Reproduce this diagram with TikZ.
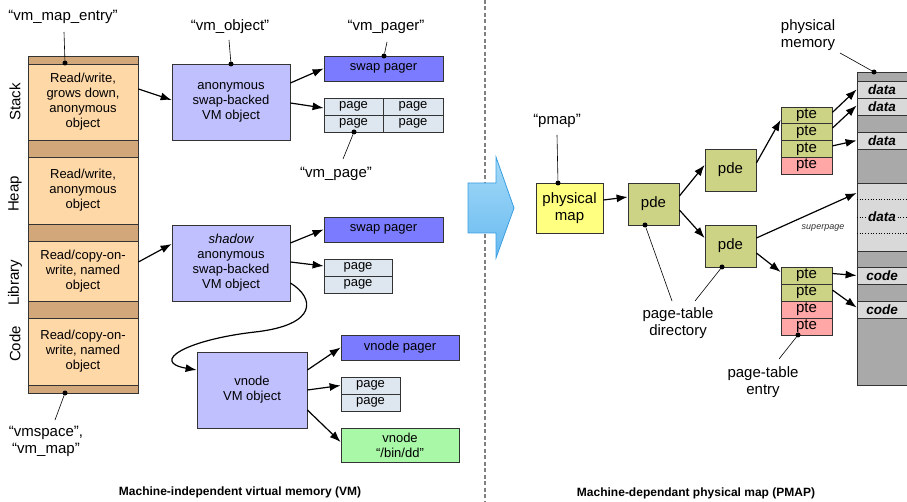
\documentclass[tikz,border=0pt]{standalone}
\usepackage{fontspec}
\setmainfont{Liberation Sans}
\usetikzlibrary{arrows.meta,calc}
\definecolor{tanL}{HTML}{FFD8A8}
\definecolor{tanD}{HTML}{D2A87A}
\definecolor{lav}{HTML}{C0C0FF}
\definecolor{swp}{HTML}{7B7BFF}
\definecolor{pgc}{HTML}{DEE6EF}
\definecolor{grn}{HTML}{A8F8A8}
\definecolor{yel}{HTML}{FFFF80}
\definecolor{olv}{HTML}{CDD384}
\definecolor{rdp}{HTML}{FFA6A6}
\definecolor{memD}{HTML}{A9A9A9}
\definecolor{memL}{HTML}{D9D9D9}
\definecolor{bord}{HTML}{333333}
\begin{document}
\begin{tikzpicture}[x=1pt,y=-1pt,
  box/.style={draw=bord, line width=0.8pt, inner sep=0pt, align=center,
     font=\fontsize{13}{15}\selectfont},
  rbox/.style={draw=bord, line width=0.8pt, inner sep=0pt, align=center,
     font=\fontsize{15}{17}\selectfont},
  lbl/.style={align=center, inner sep=0pt, font=\fontsize{15}{17}\selectfont},
  side/.style={rotate=90, inner sep=0pt, font=\fontsize{15}{17}\selectfont},
  ttl/.style={inner sep=0pt, font=\fontsize{12}{14}\selectfont\bfseries},
  memtxt/.style={inner sep=1pt, font=\fontsize{13.5}{15}\selectfont\bfseries\itshape},
  arr/.style={-{Latex[length=11pt,width=8pt]}, line width=1.2pt, black},
  pinline/.style={line width=0.6pt, black},
  dot/.style={circle, fill=black, inner sep=0pt, minimum size=5pt}
]
\useasboundingbox (0,0) rectangle (907,502);

% separator
\draw[gray, line width=1.3pt, dash pattern=on 4pt off 2.5pt] (485,0) -- (485,502);

% ---------------- left column ----------------
\node[box, fill=tanD, minimum width=110, minimum height=8] (s0) at (83,60) {};
\node[box, fill=tanL, minimum width=110, minimum height=76] (stack) at (83,102) {Read/write,\\grows down,\\anonymous\\object};
\node[box, fill=tanD, minimum width=110, minimum height=17] (s1) at (83,148.5) {};
\node[box, fill=tanL, minimum width=110, minimum height=67] (heap) at (83,190.5) {Read/write,\\anonymous\\object};
\node[box, fill=tanD, minimum width=110, minimum height=17] (s2) at (83,232.5) {};
\node[box, fill=tanL, minimum width=110, minimum height=60] (lib) at (83,271) {Read/copy-on-\\write, named\\object};
\node[box, fill=tanD, minimum width=110, minimum height=17] (s3) at (83,309.5) {};
\node[box, fill=tanL, minimum width=110, minimum height=67] (code) at (83,351.5) {Read/copy-on-\\write, named\\object};
\node[box, fill=tanD, minimum width=110, minimum height=8] (s4) at (83,389) {};

\node[side] (lstack) at (15,102) {Stack};
\node[side] (lheap) at (15,194) {Heap};
\node[side] (llib) at (15,283) {Library};
\node[side] (lcode) at (15,344) {Code};

% ---------------- objects ----------------
\node[box, fill=lav, minimum width=118, minimum height=76] (vmobj) at (231,102) {anonymous\\swap-backed\\VM object};
\node[box, fill=swp, minimum width=119, minimum height=25] (swap1) at (383.5,68.5) {swap pager};
\node[box, fill=pgc, minimum width=59, minimum height=17] (pg11) at (353.5,106.5) {page};
\node[box, fill=pgc, minimum width=60, minimum height=17] (pg12) at (413,106.5) {page};
\node[box, fill=pgc, minimum width=59, minimum height=17] (pg13) at (353.5,123.5) {page};
\node[box, fill=pgc, minimum width=60, minimum height=17] (pg14) at (413,123.5) {page};

\node[box, fill=lav, minimum width=118, minimum height=76] (shadow) at (231,263) {\itshape shadow\\anonymous\\swap-backed\\VM object};
\node[box, fill=swp, minimum width=119, minimum height=25] (swap2) at (383.5,229.5) {swap pager};
\node[box, fill=pgc, minimum width=68, minimum height=17] (pg21) at (358,267.5) {page};
\node[box, fill=pgc, minimum width=68, minimum height=17] (pg22) at (358,284.5) {page};

\node[box, fill=lav, minimum width=110, minimum height=76] (vnode) at (252,390) {vnode\\VM object};
\node[box, fill=swp, minimum width=118, minimum height=25] (vpager) at (400,347.5) {vnode pager};
\node[box, fill=pgc, minimum width=59, minimum height=17] (pg31) at (370.5,385.5) {page};
\node[box, fill=pgc, minimum width=59, minimum height=17] (pg32) at (370.5,402.5) {page};
\node[box, fill=grn, minimum width=118, minimum height=34] (vdd) at (400,445) {vnode\\“/bin/dd”};

% left arrows
\draw[arr] ([yshift=13pt]stack.east) -- ([yshift=2pt]vmobj.west);
\draw[arr] ([yshift=19pt]vmobj.east) -- (swap1.west);
\draw[arr] ([yshift=-1pt]vmobj.east) -- ([yshift=-1.5pt]pg11.west);
\draw[arr] ([yshift=9pt]lib.east) -- ([yshift=19pt]shadow.west);
\draw[arr] ([yshift=20pt]shadow.east) -- (swap2.west);
\draw[arr] ([yshift=1pt]shadow.east) -- ([yshift=1.5pt]pg21.west);
\draw[arr] ([yshift=-20pt]shadow.east) .. controls (315,298) and (318,325) .. (255,332)
   .. controls (185,340) and (150,362) .. ([yshift=20pt]vnode.west);
\draw[arr] ([yshift=20pt]vnode.east) -- (vpager.west);
\draw[arr] (vnode.east) -- (pg31.west);
\draw[arr] ([yshift=-20pt]vnode.east) -- ([yshift=3pt]vdd.west);

% left labels and pins
\node[lbl] (lentry) at (63,17) {“vm\_map\_entry”};
\coordinate (pe1) at (64,32); \node[dot] (de1) at (65,63) {};
\draw[pinline] (pe1) -- (de1);
\node[lbl] (lvms) at (46,441) {“vmspace”,\\“vm\_map”};
\coordinate (pe2) at (55,420); \node[dot] (de2) at (65,393) {};
\draw[pinline] (pe2) -- (de2);
\node[lbl] (lobj) at (230,27) {“vm\_object”};
\coordinate (pe3) at (229,40); \node[dot] (de3) at (231,64) {};
\draw[pinline] (pe3) -- (de3);
\node[lbl] (lpager) at (386,27) {“vm\_pager”};
\coordinate (pe4) at (387,42); \node[dot] (de4) at (384,56) {};
\draw[pinline] (pe4) -- (de4);
\node[lbl] (lpage) at (336,174) {“vm\_page”};
\coordinate (pe5) at (343,159); \node[dot] (de5) at (354,132) {};
\draw[pinline] (pe5) -- (de5);

\node[ttl] (t1) at (240,492) {Machine-independent virtual memory (VM)};

% ---------------- big arrow ----------------
\shade[top color={rgb,255:red,164;green,218;blue,248}, bottom color={rgb,255:red,104;green,186;blue,240}]
  (468,183) -- (496,183) -- (496,157) -- (514,208) -- (496,258) -- (496,233) -- (468,233) -- cycle;
\draw[line width=0.8pt, draw={rgb,255:red,58;green,158;blue,224}]
  (468,183) -- (496,183) -- (496,157) -- (514,208) -- (496,258) -- (496,233) -- (468,233) -- cycle;

% ---------------- right side ----------------
\node[rbox, fill=yel, minimum width=67, minimum height=50] (pm) at (569.5,208) {physical\\map};
\node[rbox, fill=olv, minimum width=51, minimum height=42] (pde1) at (653.5,204) {pde};
\node[rbox, fill=olv, minimum width=51, minimum height=42] (pdeU) at (730.5,170) {pde};
\node[rbox, fill=olv, minimum width=51, minimum height=42] (pdeL) at (730.5,246) {pde};

\node[rbox, fill=olv, minimum width=51, minimum height=16.75] (pA1) at (806.5,115.4) {pte};
\node[rbox, fill=olv, minimum width=51, minimum height=16.75] (pA2) at (806.5,132.1) {pte};
\node[rbox, fill=olv, minimum width=51, minimum height=16.75] (pA3) at (806.5,148.9) {pte};
\node[rbox, fill=rdp, minimum width=51, minimum height=16.75] (pA4) at (806.5,165.6) {pte};

\node[rbox, fill=olv, minimum width=51, minimum height=17] (pB1) at (806.5,275.5) {pte};
\node[rbox, fill=olv, minimum width=51, minimum height=17] (pB2) at (806.5,292.5) {pte};
\node[rbox, fill=rdp, minimum width=51, minimum height=17] (pB3) at (806.5,309.5) {pte};
\node[rbox, fill=rdp, minimum width=51, minimum height=17] (pB4) at (806.5,326.5) {pte};

% physical memory column
\node[draw=bord, line width=0.8pt, fill=memD, minimum width=55, minimum height=313, inner sep=0pt] (mem) at (884.5,228.5) {};
\node[draw=bord, line width=0.8pt, fill=memL, minimum width=55, minimum height=17, inner sep=0pt] (m1) at (884.5,89.5) {};
\node[draw=bord, line width=0.8pt, fill=memL, minimum width=55, minimum height=17, inner sep=0pt] (m2) at (884.5,106.5) {};
\node[draw=bord, line width=0.8pt, fill=memL, minimum width=55, minimum height=17, inner sep=0pt] (m3) at (884.5,140.5) {};
\node[draw=bord, line width=0.8pt, fill=memL, minimum width=55, minimum height=68, inner sep=0pt] (sup) at (884.5,217) {};
\node[draw=bord, line width=0.8pt, fill=memL, minimum width=55, minimum height=17, inner sep=0pt] (c1) at (884.5,275.5) {};
\node[draw=bord, line width=0.8pt, fill=memL, minimum width=55, minimum height=17, inner sep=0pt] (c2) at (884.5,309.5) {};
\draw[dotted, line width=0.7pt] (857,199) -- (912,199);
\draw[dotted, line width=0.7pt] (857,217) -- (912,217);
\draw[dotted, line width=0.7pt] (857,233) -- (912,233);
\node[memtxt] (tm1) at (882,89.5) {data};
\node[memtxt] (tm2) at (882,106.5) {data};
\node[memtxt] (tm3) at (882,140.5) {data};
\node[memtxt, fill=memL] (tsup) at (882,217) {data};
\node[memtxt] (tc1) at (882,275.5) {code};
\node[memtxt] (tc2) at (882,309.5) {code};

% right arrows
\draw[arr] ([yshift=8pt]pm.east) -- ([yshift=7pt]pde1.west);
\draw[arr] ([yshift=8pt]pde1.east) -- ([yshift=5pt]pdeU.west);
\draw[arr] ([yshift=-6pt]pde1.east) -- ([yshift=8pt]pdeL.west);
\draw[arr] ([yshift=7pt]pdeU.east) -- ([yshift=-4.5pt]pA1.west);
\draw[arr] ([yshift=8pt]pdeL.east) -- ([yshift=24pt]sup.west);
\draw[arr] ([yshift=-7pt]pdeL.east) -- ([yshift=3.5pt]pB1.west);
\draw[arr] ([yshift=3pt]pA1.east) -- (m1.west);
\draw[arr] ([yshift=4pt]pA2.east) -- ([yshift=1pt]m2.west);
\draw[arr] ([yshift=3pt]pA3.east) -- (m3.west);
\draw[arr] ([yshift=2pt]pB1.east) -- (c1.west);
\draw[arr] ([yshift=2.5pt]pB2.east) -- ([yshift=2pt]c2.west);

\node[inner sep=0pt, font=\fontsize{9}{10}\selectfont\itshape, text=black!80] (lsup) at (823,228) {superpage};

% right labels and pins
\node[lbl] (lpmap) at (557,121) {“pmap”};
\coordinate (pr1) at (557,135); \node[dot] (dr1) at (558,183) {};
\draw[pinline] (pr1) -- (dr1);
\node[lbl, align=left] (lphys) at (808,35) {physical\\memory};
\coordinate (pr2) at (840,53); \node[dot] (dr2) at (874,72) {};
\draw[pinline] (pr2) -- (dr2);
\node[lbl] (lptd) at (678,323.5) {page-table\\directory};
\coordinate (pr3) at (672,301); \node[dot] (dr3) at (645,225) {};
\draw[pinline] (pr3) -- (dr3);
\coordinate (pr4) at (695,301); \node[dot] (dr4) at (722,267) {};
\draw[pinline] (pr4) -- (dr4);
\node[lbl] (lpte) at (763,382) {page-table\\entry};
\coordinate (pr5) at (779,359); \node[dot] (dr5) at (798,335) {};
\draw[pinline] (pr5) -- (dr5);

\node[ttl] (t2) at (696,493) {Machine-dependant physical map (PMAP)};
\end{tikzpicture}
\end{document}
